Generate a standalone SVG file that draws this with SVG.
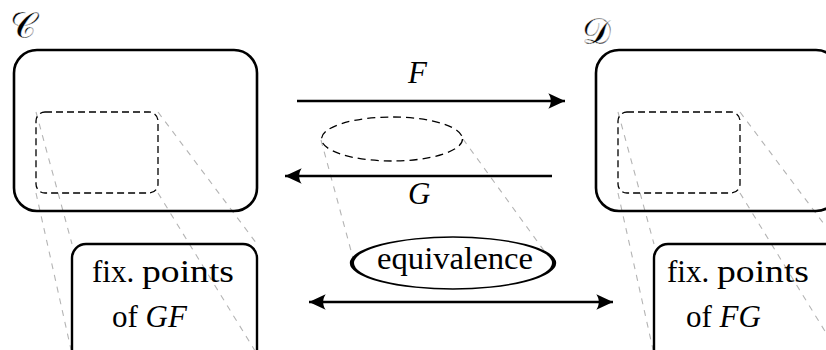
<svg xmlns="http://www.w3.org/2000/svg" width="826" height="350" viewBox="0 0 826 350">
<style>
.big{fill:none;stroke:#000;stroke-width:2.6}
.inner{fill:none;stroke:#000;stroke-width:1.3;stroke-dasharray:7 4}
.proj{fill:none;stroke:#b4b4b4;stroke-width:1.1;stroke-dasharray:6 6}
.fix{fill:none;stroke:#000;stroke-width:2.4}
.arr{fill:none;stroke:#000;stroke-width:2.4}
.t{font-family:"Liberation Serif","Times New Roman",serif;font-size:31px;fill:#000}
.it{font-style:italic}
.cal{font-family:"DejaVu Serif","Liberation Serif",serif;font-size:36px;fill:#000;stroke:#fff;stroke-width:0.35}
</style>
<defs>
<marker id="ah" markerUnits="userSpaceOnUse" markerWidth="20" markerHeight="20" viewBox="-17 -9 18 18" refX="0" refY="0" orient="auto-start-reverse">
<path d="M0 0 L-15 -7 C-12 -2.5 -12 2.5 -15 7 Z" fill="#000"/>
</marker>
</defs>
<g id="projections">
<line class="proj" x1="36" y1="112" x2="72" y2="244"/>
<line class="proj" x1="36" y1="193" x2="72" y2="354"/>
<line class="proj" x1="158" y1="112" x2="257" y2="244"/>
<line class="proj" x1="158" y1="193" x2="257" y2="354"/>
<line class="proj" x1="618" y1="112" x2="654" y2="244"/>
<line class="proj" x1="618" y1="193" x2="654" y2="354"/>
<line class="proj" x1="740" y1="112" x2="839" y2="244"/>
<line class="proj" x1="740" y1="193" x2="839" y2="354"/>
<line class="proj" x1="321" y1="140" x2="353" y2="258"/>
<line class="proj" x1="463" y1="139" x2="545" y2="252"/>
</g>
<g id="C">
<rect class="big" x="14" y="50" width="243" height="161" rx="23"/>
<text class="cal" x="10" y="38">𝒞</text>
</g>
<g id="C-inner">
<rect class="inner" x="36" y="112" width="122" height="81" rx="9"/>
</g>
<g id="D">
<rect class="big" x="596" y="50" width="243" height="161" rx="23"/>
<text class="cal" x="582" y="44">𝒟</text>
</g>
<g id="D-inner">
<rect class="inner" x="618" y="112" width="122" height="81" rx="9"/>
</g>
<g id="small-ellipse">
<ellipse cx="392" cy="139" rx="70.5" ry="22" fill="none" stroke="#000" stroke-width="1.3" stroke-dasharray="8 5"/>
</g>
<g id="fixGF">
<rect class="fix" x="72" y="244" width="185" height="120" rx="14"/>
<text class="t" y="282"><tspan x="92">fix.</tspan><tspan x="142" textLength="92" lengthAdjust="spacingAndGlyphs">points</tspan></text>
<text class="t" x="112" y="327">of <tspan class="it">GF</tspan></text>
</g>
<g id="fixFG">
<rect class="fix" x="654" y="244" width="185" height="120" rx="14"/>
<text class="t" y="282"><tspan x="667">fix.</tspan><tspan x="717" textLength="92" lengthAdjust="spacingAndGlyphs">points</tspan></text>
<text class="t" x="686" y="327">of <tspan class="it">FG</tspan></text>
</g>
<g id="equivalence">
<ellipse cx="0" cy="0" rx="33.7" ry="26" fill="#fff" stroke="#000" stroke-width="1.4" transform="translate(453,263) scale(3,1)"/>
<text class="t" x="377" y="269" textLength="156" lengthAdjust="spacingAndGlyphs">equivalence</text>
</g>
<g id="connectors">
<line class="arr" x1="297" y1="101" x2="565" y2="101" marker-end="url(#ah)"/>
<text class="t it" x="408" y="83" font-size="27">F</text>
<line class="arr" x1="552" y1="176" x2="285" y2="176" marker-end="url(#ah)"/>
<text class="t it" x="408" y="204" font-size="27">G</text>
<line class="arr" x1="309" y1="302" x2="613" y2="302" marker-start="url(#ah)" marker-end="url(#ah)"/>
</g>
</svg>
